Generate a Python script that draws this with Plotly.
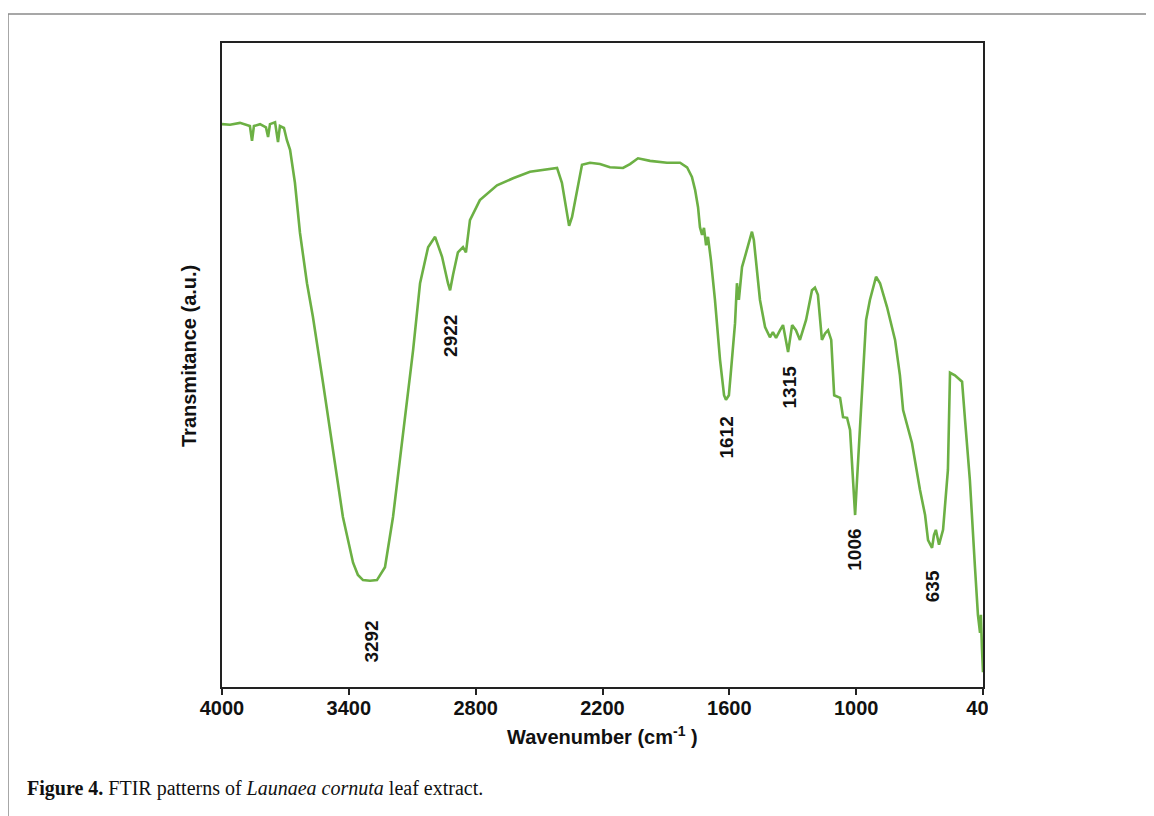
import plotly.graph_objects as go

# ---- data (transmittance in arbitrary units) ----
wavenumber = [4000, 3962, 3915, 3868, 3858, 3849, 3820, 3792, 3782, 3773, 3749, 3735, 3726,
              3707, 3693, 3678, 3655, 3631, 3598, 3570, 3522, 3475, 3428, 3380, 3357, 3333,
              3300, 3267, 3229, 3191, 3144, 3096, 3063, 3025, 2992, 2959, 2931, 2921, 2907,
              2884, 2860, 2846, 2827, 2780, 2699, 2623, 2543, 2434, 2415, 2392, 2368, 2358,
              2344, 2321, 2297, 2259, 2212, 2165, 2103, 2070, 2032, 1975, 1895, 1833, 1800,
              1777, 1762, 1748, 1739, 1729, 1720, 1710, 1701, 1687, 1668, 1644, 1625, 1616,
              1602, 1573, 1564, 1555, 1540, 1521, 1502, 1493, 1484, 1469, 1455, 1431, 1408,
              1394, 1379, 1360, 1346, 1322, 1303, 1285, 1266, 1237, 1209, 1195, 1181, 1162,
              1147, 1133, 1118, 1104, 1076, 1062, 1043, 1029, 1015, 1005, 996, 982, 968, 953,
              935, 906, 887, 854, 816, 793, 778, 736, 698, 674, 660, 641, 632, 623, 608, 589,
              566, 556, 533, 518, 499, 485, 462, 438, 424, 414, 410, 405, 400]
transmittance = [87.4, 87.3, 87.6, 87.1, 84.8, 87.1, 87.4, 86.9, 85.4, 87.4, 87.7, 84.6, 87.1,
                 86.8, 84.9, 83.4, 78.3, 70.5, 62.7, 57.5, 47.2, 36.8, 26.4, 19.3, 17.4, 16.6,
                 16.5, 16.6, 18.6, 26.4, 39.4, 52.3, 62.7, 68.3, 69.9, 66.8, 62.7, 61.6, 64.0,
                 67.5, 68.3, 67.5, 72.5, 75.6, 77.9, 79.0, 80.0, 80.6, 80.6, 78.3, 73.6, 71.6,
                 73.0, 77.2, 81.1, 81.4, 81.2, 80.7, 80.6, 81.2, 82.1, 81.7, 81.4, 81.4, 80.7,
                 79.2, 77.2, 74.5, 71.4, 70.2, 71.3, 68.6, 69.9, 66.3, 60.1, 50.8, 45.3, 44.6,
                 45.3, 56.5, 62.7, 60.1, 65.2, 67.4, 69.9, 70.7, 69.4, 64.3, 60.1, 55.9, 54.3,
                 55.1, 54.2, 55.4, 56.2, 52.0, 56.2, 55.4, 53.9, 57.0, 61.6, 62.0, 60.9, 53.9,
                 54.9, 55.4, 53.9, 45.3, 44.9, 41.9, 41.8, 39.9, 32.1, 26.7, 32.1, 39.9, 49.2, 57.0,
                 60.1, 63.7, 62.7, 59.0, 53.9, 48.4, 43.0, 37.9, 30.6, 26.7, 22.8, 21.6, 23.6, 24.4,
                 22.1, 24.4, 33.7, 48.8, 48.4, 48.0, 47.4, 41.5, 32.1, 18.6, 11.2, 8.4, 11.2, 6.1, 2.3]

x_ticks = [4000, 3400, 2800, 2200, 1600, 1000, 400]
peak_labels = [3292, 2922, 1612, 1315, 1006, 635]
peak_label_y = [7.0, 54.5, 38.7, 46.6, 21.3, 15.7]

x_title = "Wavenumber (cm<sup>-1</sup> )"
y_title = "Transmitance (a.u.)"
caption = "<b>Figure 4.</b> FTIR patterns of <i>Launaea cornuta</i> leaf extract."

# ---- figure ----
BODY = 8                      # page body margin added by the browser
W, H = 1154 - BODY, 816 - BODY
L, R, T, B = 222, 983, 43, 687  # plot area in window pixels

def px_x(p):
    return (p - L) / (R - L)

def px_y(p):
    return (B - p) / (B - T)

sans = "Liberation Sans, Arial, sans-serif"
green = "#6cb044"

fig = go.Figure()
fig.add_trace(go.Scatter(x=wavenumber, y=transmittance, mode="lines",
                         line=dict(color=green, width=2.6), hoverinfo="skip",
                         showlegend=False))

annotations = []
for wn, yy in zip(peak_labels, peak_label_y):
    annotations.append(dict(x=wn, y=yy, xref="x", yref="y", text=str(wn), showarrow=False,
                            textangle=-90, xanchor="center", yanchor="middle",
                            font=dict(family=sans, size=19, color="#111", weight=700)))

annotations.append(dict(x=px_x(602.5), y=px_y(735), xref="paper", yref="paper", text=x_title,
                        showarrow=False, xanchor="center", yanchor="middle",
                        font=dict(family=sans, size=20, color="#111", weight=700)))
annotations.append(dict(x=px_x(189), y=px_y(356), xref="paper", yref="paper", text=y_title,
                        showarrow=False, textangle=-90, xanchor="center", yanchor="middle",
                        font=dict(family=sans, size=20, color="#111", weight=700)))
annotations.append(dict(x=px_x(25), y=px_y(788), xref="paper", yref="paper", text=caption,
                        showarrow=False, xanchor="left", yanchor="middle",
                        font=dict(family="Liberation Serif, Times New Roman, serif", size=20,
                                  color="#111")))

shapes = [
    # outer figure frame (top and left edges visible)
    dict(type="line", xref="paper", yref="paper", x0=px_x(8), x1=px_x(1160),
         y0=px_y(14), y1=px_y(14), line=dict(color="#8a8a8a", width=1.5)),
    dict(type="line", xref="paper", yref="paper", x0=px_x(8), x1=px_x(8),
         y0=px_y(14), y1=px_y(830), line=dict(color="#8a8a8a", width=1.5)),
    # cropped right edge of the image (cuts the last tick label)
    dict(type="rect", xref="paper", yref="paper", x0=px_x(988), x1=px_x(1020),
         y0=px_y(692), y1=px_y(722), line=dict(width=0), fillcolor="white", layer="above"),
]

fig.update_layout(
    width=W, height=H,
    margin=dict(l=L - BODY, r=1154 - R, t=T - BODY, b=816 - B, pad=0),
    paper_bgcolor="white", plot_bgcolor="white",
    annotations=annotations, shapes=shapes,
    xaxis=dict(range=[4000, 400], tickvals=x_ticks, ticktext=[str(v) for v in x_ticks],
               ticks="outside", ticklen=6, tickwidth=1.5, tickcolor="#222",
               ticklabelstandoff=-4,
               showline=True, linewidth=2, linecolor="#222", mirror=True,
               showgrid=False, zeroline=False, automargin=False,
               tickfont=dict(family=sans, size=20, color="#111", weight=700)),
    yaxis=dict(range=[0, 100], showticklabels=False, ticks="",
               showline=True, linewidth=2, linecolor="#222", mirror=True,
               showgrid=False, zeroline=False, automargin=False),
)

fig.write_html("out.html")
